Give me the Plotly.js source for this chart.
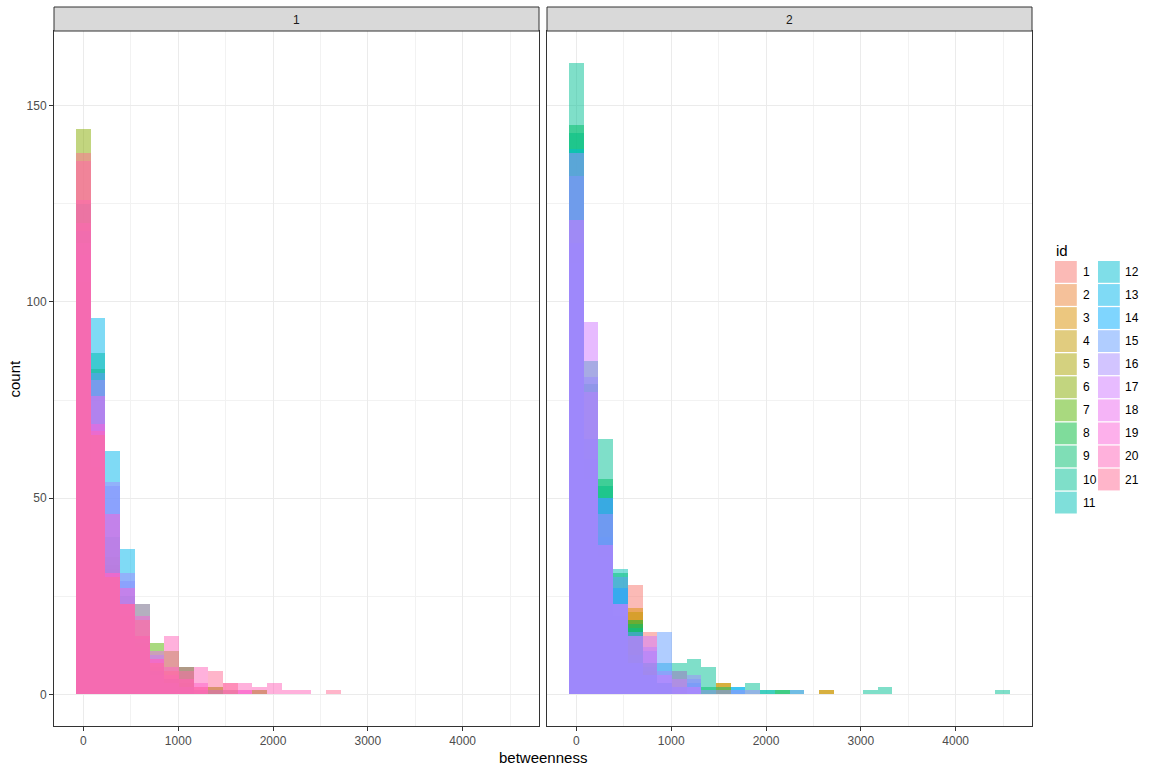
<!DOCTYPE html>
<html>
<head>
<meta charset="utf-8">
<script src="https://cdn.plot.ly/plotly-3.0.1.min.js"></script>
<style>html,body{margin:0;padding:0;background:#fff;}#chart{width:1152px;height:768px;}</style>
</head>
<body>
<div id="chart"></div>
<script>
// ---------------- DATA ----------------
const facetLabels = ['1', '2'];
const idLabels = ['1','2','3','4','5','6','7','8','9','10','11','12','13','14','15','16','17','18','19','20','21'];
const BIN_WIDTH = 155;           // histogram bin width (30 bins, first centred at 0)
const N_BINS = 30;
const xTickLabels = ['0', '1000', '2000', '3000', '4000'];
const yTickLabels = ['0', '50', '100', '150'];

// facet "1": counts per bin (bin 0 centred at 0)
const f1_id2  = [105, 58, 32, 20, 12, 7, 4, 3];
const f1_id4  = [100, 55, 30, 18, 10, 6, 4, 3, 0, 2, 1, 0, 1];
const f1_id6  = [144, 60, 33, 20, 23, 6, 11, 7, 0, 2, 0, 0, 1];
const f1_id7  = [110, 83, 35, 22, 13, 13, 4, 2];
const f1_id9  = [125, 87, 40, 25, 15, 7, 4, 7, 1, 1];
const f1_id13 = [118, 96, 62, 37, 14, 6, 3, 2];
const f1_id15 = [112, 82, 53, 29, 12, 5, 3, 1];
const f1_id16 = [115, 80, 54, 31, 23, 10, 4, 2, 1, 0, 1];
const f1_id18 = [120, 76, 31, 23, 15, 11, 5, 4, 2, 0, 0, 1];
const f1_id19 = [126, 69, 46, 27, 20, 9, 7, 4, 3, 1, 0, 1];
const f1_id20 = [136, 67, 31, 23, 15, 9, 15, 6, 7, 0, 3, 3, 2, 3, 1, 1];
const f1_id21 = [138, 66, 30, 23, 19, 8, 6, 7, 2, 6, 3, 0, 0, 0, 0, 0, 0, 1];

// facet "2"
const f2_id1  = [95, 50, 30, 15, 28, 16, 2];
const f2_id3  = [90, 45, 28, 12, 22, 6, 0, 6, 0, 0, 3, 0, 0, 0, 0, 0, 0, 1];
const f2_id4  = [92, 45, 25, 10, 21, 6, 0, 0, 0, 0, 3, 0, 0, 0, 0, 0, 0, 1];
const f2_id8  = [145, 65, 55, 31, 19, 8, 3, 0, 0, 2, 0, 0, 0, 0, 1];
const f2_id9  = [143, 79, 53, 18, 18, 8, 3, 0, 0, 0, 2, 0, 0, 0, 1];
const f2_id10 = [161, 85, 65, 20, 17, 7, 3, 8, 9, 7, 0, 0, 3, 1, 0, 1, 0, 0, 0, 0, 1, 2, 0, 0, 0, 0, 0, 0, 0, 1];
const f2_id11 = [110, 55, 35, 32, 10, 5, 0, 0, 0, 0, 0, 0, 0, 1];
const f2_id12 = [139, 60, 40, 27, 8, 5, 8, 0, 0, 0, 0, 2];
const f2_id14 = [115, 65, 50, 27, 8, 5, 3, 2, 3, 0, 0, 2];
const f2_id15 = [132, 81, 50, 30, 16, 11, 16, 2, 4, 0, 0, 0, 0, 0, 0, 1];
const f2_id16 = [138, 77, 46, 23, 15, 12, 6, 6, 5, 1, 1, 1, 1];
const f2_id17 = [121, 95, 38, 23, 15, 15, 5, 4, 2];

const facet1Series = [[2, f1_id2], [4, f1_id4], [6, f1_id6], [7, f1_id7], [9, f1_id9], [13, f1_id13],
                      [15, f1_id15], [16, f1_id16], [18, f1_id18], [19, f1_id19], [20, f1_id20], [21, f1_id21]];
const facet2Series = [[1, f2_id1], [3, f2_id3], [4, f2_id4], [8, f2_id8], [9, f2_id9], [10, f2_id10],
                      [11, f2_id11], [12, f2_id12], [14, f2_id14], [15, f2_id15], [16, f2_id16], [17, f2_id17]];

// ---------------- STYLE HELPERS ----------------
function hcl(h, c, l) {
  const WY = 100, Wu = 0.1978398, Wv = 0.4683363;
  const hr = h * Math.PI / 180;
  const U = c * Math.cos(hr), V = c * Math.sin(hr);
  const Y = WY * (l > 7.999592 ? Math.pow((l + 16) / 116, 3) : l / 903.3);
  const u = U / (13 * l) + Wu, v = V / (13 * l) + Wv;
  const X = 9 * Y * u / (4 * v);
  const Z = -X / 3 - 5 * Y + 3 * Y / v;
  const g = t => t > 0.00304 ? 1.055 * Math.pow(t, 1 / 2.4) - 0.055 : 12.92 * t;
  const cl = t => Math.round(255 * Math.min(1, Math.max(0, g(t))));
  return [cl((3.240479 * X - 1.537150 * Y - 0.498535 * Z) / WY),
          cl((-0.969256 * X + 1.875992 * Y + 0.041556 * Z) / WY),
          cl((0.055648 * X - 0.204043 * Y + 1.057311 * Z) / WY)];
}
const nIds = idLabels.length;
const palette = idLabels.map((_, i) => hcl(15 + i * 360 / nIds, 100, 65));
const rgba = (rgb, a) => `rgba(${rgb[0]},${rgb[1]},${rgb[2]},${a})`;
const ALPHA = 0.5;

const binCenters = Array.from({length: N_BINS}, (_, k) => k * BIN_WIDTH);

function makeTraces(series, xa, ya) {
  return series.map(([id, counts]) => ({
    type: 'bar',
    x: binCenters.slice(0, counts.length),
    y: counts,
    width: BIN_WIDTH,
    xaxis: xa, yaxis: ya,
    name: idLabels[id - 1],
    marker: {color: rgba(palette[id - 1], ALPHA), line: {width: 0}},
    showlegend: false,
    hoverinfo: 'skip'
  }));
}
const traces = makeTraces(facet1Series, 'x', 'y').concat(makeTraces(facet2Series, 'x2', 'y2'));

// ---------------- LAYOUT ----------------
const W = 1152, H = 768, ML = 54, MR = 120, MT = 31, MB = 42;
const PW = W - ML - MR, PH = H - MT - MB;
const px = x => (x - ML) / PW;
const py = y => (H - MB - y) / PH;
const FONT = 'Liberation Sans, Arial, Helvetica, sans-serif';
const DARK = '#333333', GRID = '#EBEBEB', GRID_MINOR = '#F2F2F2';

const xCommon = {
  range: [-2 * BIN_WIDTH, 31 * BIN_WIDTH],
  tickmode: 'array', tickvals: xTickLabels.map(Number), ticktext: xTickLabels,
  ticks: 'outside', ticklen: 4, tickwidth: 1, tickcolor: DARK,
  tickfont: {family: FONT, size: 12, color: '#4D4D4D'},
  showgrid: true, gridcolor: GRID, gridwidth: 1,
  minor: {tickmode: 'array', tickvals: [500, 1500, 2500, 3500, 4500], showgrid: true, gridcolor: GRID_MINOR, gridwidth: 1, ticks: ''},
  showline: true, mirror: true, linecolor: DARK, linewidth: 1,
  zeroline: false, fixedrange: true
};
const yCommon = {
  range: [-8.05, 169.05],
  tickmode: 'array', tickvals: yTickLabels.map(Number), ticktext: yTickLabels,
  showgrid: true, gridcolor: GRID, gridwidth: 1,
  minor: {tickmode: 'array', tickvals: [25, 75, 125], showgrid: true, gridcolor: GRID_MINOR, gridwidth: 1, ticks: ''},
  showline: true, mirror: true, linecolor: DARK, linewidth: 1,
  zeroline: false, fixedrange: true
};

const shapes = [];
const annotations = [];
const domains = [[0, px(539)], [px(547), 1]];
facetLabels.forEach((lab, i) => {
  shapes.push({type: 'rect', xref: 'paper', yref: 'paper', x0: domains[i][0], x1: domains[i][1],
               y0: 1, y1: py(7), fillcolor: '#D9D9D9', line: {color: DARK, width: 1}});
  annotations.push({xref: 'paper', yref: 'paper', x: (domains[i][0] + domains[i][1]) / 2, y: py(19.5),
                    text: lab, showarrow: false, xanchor: 'center', yanchor: 'middle',
                    font: {family: FONT, size: 12, color: '#1A1A1A'}});
});
// axis titles
annotations.push({xref: 'paper', yref: 'paper', x: 0.5, y: py(757), text: 'betweenness', showarrow: false,
                  xanchor: 'center', yanchor: 'middle', font: {family: FONT, size: 15, color: '#000'}});
annotations.push({xref: 'paper', yref: 'paper', x: px(14), y: 0.5, text: 'count', showarrow: false, textangle: -90,
                  xanchor: 'center', yanchor: 'middle', font: {family: FONT, size: 15, color: '#000'}});
// legend (two columns, column-major)
annotations.push({xref: 'paper', yref: 'paper', x: px(1054), y: py(250), text: 'id', showarrow: false,
                  xanchor: 'left', yanchor: 'middle', font: {family: FONT, size: 15, color: '#000'}});
const rowsPerCol = Math.ceil(nIds / 2);
const keyTop0 = 261, keyPitch = 23.07, keySize = 21.8;
const colKeyX = [1055, 1098], colLabX = [1080.5, 1123];
idLabels.forEach((lab, i) => {
  const col = Math.floor(i / rowsPerCol), row = i % rowsPerCol;
  const top = keyTop0 + row * keyPitch;
  shapes.push({type: 'rect', xref: 'paper', yref: 'paper', x0: px(colKeyX[col]), x1: px(colKeyX[col] + keySize),
               y0: py(top + keySize), y1: py(top), fillcolor: rgba(palette[i], ALPHA), line: {width: 0}});
  annotations.push({xref: 'paper', yref: 'paper', x: px(colLabX[col]), y: py(top + keySize / 2), text: lab,
                    showarrow: false, xanchor: 'left', yanchor: 'middle', font: {family: FONT, size: 12, color: '#000'}});
});

const layout = {
  width: W, height: H,
  margin: {l: ML, r: MR, t: MT, b: MB, pad: 0},
  paper_bgcolor: '#FFFFFF', plot_bgcolor: '#FFFFFF',
  barmode: 'overlay', bargap: 0, showlegend: false,
  font: {family: FONT, color: '#000'},
  xaxis: Object.assign({}, xCommon, {domain: domains[0], anchor: 'y'}),
  xaxis2: Object.assign({}, xCommon, {domain: domains[1], anchor: 'y2'}),
  yaxis: Object.assign({}, yCommon, {anchor: 'x', ticks: 'outside', ticklen: 4, tickwidth: 1, tickcolor: DARK,
                                     tickfont: {family: FONT, size: 12, color: '#4D4D4D'}}),
  yaxis2: Object.assign({}, yCommon, {anchor: 'x2', matches: 'y', showticklabels: false, ticks: ''}),
  shapes: shapes,
  annotations: annotations
};

Plotly.newPlot('chart', traces, layout, {displayModeBar: false, staticPlot: true});
</script>
</body>
</html>
